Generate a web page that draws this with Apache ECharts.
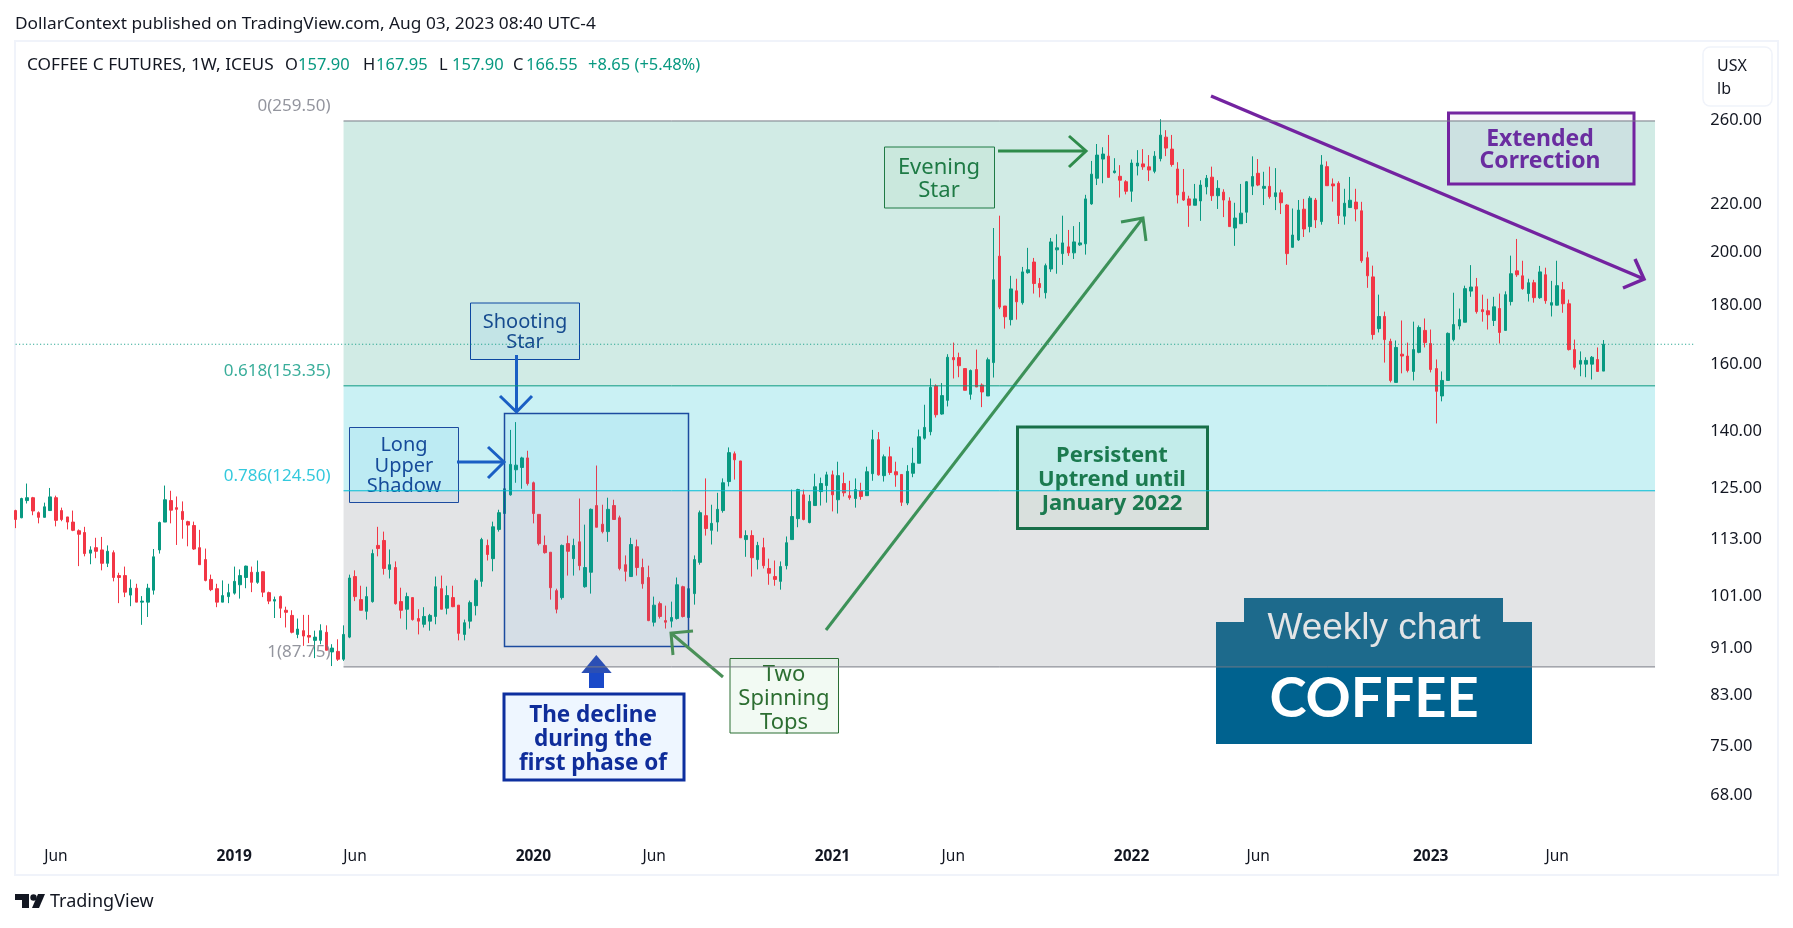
<!DOCTYPE html>
<html>
<head>
<meta charset="utf-8">
<title>Coffee C Futures weekly</title>
<script src="https://cdn.jsdelivr.net/npm/echarts@6/dist/echarts.min.js"></script>
<style>
  html, body { margin: 0; padding: 0; background: #fff; }
  #chart { width: 1793px; height: 928px; }
</style>
</head>
<body>
<div id="chart"></div>
<script>
// weekly candles: [open, close, low, high]
const ohlc2018 = [
[119.7,117.6,115.6,119.9],[118.0,122.6,117.9,122.8],[122.1,122.8,121.4,126.3],[122.8,119.6,118.6,123.0],[119.2,118.1,116.7,119.5],
[118.1,120.6,118.1,121.6],[119.7,123.0,119.6,125.2],[122.8,117.4,116.0,123.3],[119.7,117.6,117.2,120.4],[118.2,117.0,115.3,118.2],
[117.0,115.1,114.9,119.7],[115.0,114.2,107.2,115.3],[114.6,109.9,109.3,115.9],[110.0,110.7,107.6,111.5],[111.2,110.4,108.9,113.4],
[110.7,107.8,106.3,113.6],[107.8,110.4,107.0,111.7],[110.1,104.8,104.0,110.6],[105.2,104.8,99.6,105.8],[105.2,101.8,100.8,107.1],
[101.2,102.6,99.0,104.4],[102.6,99.8,99.8,103.5],[99.8,100.0,95.4,101.0],[99.8,102.6,96.9,103.5],[102.2,109.2,101.3,110.9],
[110.7,116.9,109.9,117.1],[117.0,122.3,117.0,125.8],[122.1,119.8,116.7,124.5],[120.4,120.0,111.8,123.1],[119.5,117.6,113.2,121.9],
[117.1,116.3,111.5,117.3],[116.2,110.9,110.7,117.1],[111.2,107.5,107.5,115.2],[108.6,104.2,104.0,111.0],[104.4,102.3,102.0,105.4],
[102.5,99.8,98.8,103.5],[99.8,101.1,99.8,104.2],[100.9,101.7,99.6,103.5]
];
const ohlc2019 = [
[101.6,104.0,101.3,107.1],[103.3,105.2,100.5,106.5],[104.8,107.2,102.6,107.3],[105.9,103.8,101.8,107.1],[103.8,105.9,103.5,108.4],
[106.0,101.8,100.8,106.1],[101.7,100.0,99.4,101.9],[100.0,100.3,96.7,100.9],[100.9,98.6,96.7,101.1],[98.2,97.8,94.9,98.9],
[97.2,94.0,93.8,98.2],[93.6,94.6,92.9,96.6],[94.3,93.3,91.5,97.3],[93.4,93.1,92.0,97.3],[92.5,93.1,89.3,94.3],
[92.5,94.3,91.8,95.5],[94.0,90.7,90.7,95.3],[90.4,91.1,87.9,91.8],[90.5,89.1,88.8,92.7],[89.1,93.6,88.8,95.3],
[93.1,104.7,92.9,105.4],[105.0,100.9,100.0,106.3],[100.3,98.2,98.2,103.1],[98.0,100.9,96.4,102.9],[99.9,109.9,99.7,110.8],
[111.7,111.0,109.3,115.9],[112.8,106.7,105.4,114.8],[106.5,107.5,104.6,110.8],[106.9,99.5,99.3,108.2],[99.9,98.2,96.6,102.7],
[98.4,100.9,94.5,101.7],[100.7,96.4,96.2,100.7],[96.6,96.1,93.6,98.4],[95.5,97.0,94.9,98.8],[96.1,97.2,94.3,97.5],
[97.0,102.9,95.5,105.0],[102.5,98.4,98.4,105.2],[98.6,101.1,97.4,103.1],[100.7,98.9,98.8,103.1],[99.2,93.8,92.5,99.2],
[93.6,95.8,92.5,96.4],[96.1,99.7,94.7,100.1],[99.1,104.2,97.2,104.6],[104.0,113.0,102.9,113.4],[111.7,109.7,108.4,113.0],
[108.8,115.9,106.1,117.1],[115.3,119.2,114.8,119.9],[119.0,125.0,119.0,127.6],[123.5,131.2,123.3,140.5],[129.8,131.0,126.5,142.7],
[130.4,132.9,125.0,133.2],[132.9,126.3,125.8,134.8]
];
const ohlc2020 = [
[126.5,119.0,116.7,126.8],[118.8,112.1,111.7,118.8],[111.7,110.1,109.9,113.9],[110.2,102.7,100.3,110.2],[102.1,98.4,97.6,102.5],
[100.7,111.7,100.3,111.9],[112.1,110.4,105.2,113.9],[108.8,111.7,105.2,113.2],[112.5,107.3,106.3,122.6],[102.9,106.9,102.7,116.4],
[105.9,120.0,101.5,120.2],[120.9,115.8,115.8,130.9],[116.5,114.8,114.4,121.1],[114.8,120.0,112.5,122.8],[120.9,117.6,117.6,122.3],
[118.0,106.7,106.3,118.5],[107.5,106.1,104.0,109.5],[105.0,111.9,105.0,113.4],[111.4,106.9,105.2,113.0],[106.9,103.5,102.5,108.8],
[104.8,96.2,96.1,107.3],[95.9,99.2,95.1,100.9],[99.5,97.0,96.6,99.9],[96.2,95.9,94.7,99.1],[96.1,96.8,94.9,99.9],
[96.6,103.3,96.4,104.8],[102.9,97.0,96.8,103.1],[96.8,102.5,96.8,102.5],[101.5,108.6,99.3,109.5],[108.0,119.2,107.5,119.7],
[118.5,115.5,113.9,127.6],[115.1,116.7,111.9,121.1],[117.0,120.0,114.8,124.0],[119.7,126.5,119.2,127.6],[126.8,134.3,125.6,135.7],
[134.0,132.4,127.3,134.6],[132.1,113.4,113.4,132.1],[113.0,113.9,109.2,115.1],[113.9,109.0,105.0,115.1],[108.6,111.7,106.5,112.5],
[111.2,107.3,106.7,113.4],[106.7,105.7,103.3,108.8],[105.0,104.4,103.1,108.4],[104.0,107.1,102.3,108.2],[107.3,112.3,106.5,113.7],
[113.0,118.3,113.0,124.8],[117.8,124.8,115.8,125.0],[123.5,117.6,117.4,124.8],[116.9,121.9,116.7,123.5],[120.9,125.5,120.9,128.8],
[124.3,126.3,120.9,127.8],[125.8,128.5,121.6,129.3]
];
const ohlc2021 = [
[128.5,123.5,119.5,129.6],[122.3,128.3,119.0,131.9],[126.3,124.0,123.1,129.1],[123.3,122.8,122.3,127.0],[122.6,124.8,120.4,127.6],
[124.5,123.1,122.3,126.5],[123.3,129.3,123.3,130.6],[128.8,137.8,127.0,140.5],[137.8,128.5,128.3,139.9],[128.3,133.2,126.8,133.8],
[133.2,129.1,128.5,135.9],[129.3,128.5,125.5,131.9],[128.6,121.7,120.8,128.6],[121.5,129.4,121.0,131.0],[128.9,131.5,127.9,135.6],
[131.5,138.6,131.5,140.6],[138.2,141.2,137.8,147.7],[140.0,152.9,139.0,155.6],[153.3,144.8,144.0,153.8],[145.0,150.4,144.8,154.2],
[149.0,162.3,147.2,163.3],[162.2,161.5,155.6,167.1],[162.2,159.6,156.0,163.8],[158.7,152.0,152.0,158.7],[150.8,158.1,149.2,158.4],
[158.4,153.0,153.0,164.8],[153.6,151.5,147.0,154.1],[150.3,161.5,150.3,162.2],[160.6,189.3,155.9,209.8],[198.4,179.3,178.6,215.0],
[179.7,175.9,171.8,179.7],[174.9,185.9,172.9,190.8],[185.2,181.2,174.9,189.7],[180.9,192.3,180.2,194.2],[192.0,193.1,191.6,201.7],
[196.1,187.9,184.2,197.7],[187.9,186.4,182.8,190.0],[184.5,194.7,182.4,195.5],[193.4,204.1,192.3,205.7],[200.9,201.7,191.6,207.2],
[199.4,203.7,195.0,215.0],[202.1,199.7,198.5,209.0],[199.7,204.1,197.3,210.6],[202.9,203.7,202.5,212.3],[203.3,222.3,199.0,224.1],
[220.1,233.5,219.7,239.7],[231.6,242.5,228.5,247.9],[240.6,243.0,229.3,246.3],[242.0,232.0,232.0,252.4],[234.2,235.0,233.8,241.0],
[232.5,230.7,222.9,237.7],[230.0,225.7,224.3,230.7]
];
const ohlc2022 = [
[225.7,238.7,221.0,240.4],[237.3,238.7,232.9,244.9],[238.3,236.9,235.5,245.4],[236.9,235.4,230.3,242.5],[234.8,242.0,233.9,244.4],
[240.8,252.3,239.5,260.4],[251.3,245.9,242.0,254.8],[245.4,238.0,237.0,252.4],[235.9,224.0,220.3,239.1],[225.3,221.8,221.4,235.9],
[222.3,219.5,210.3,223.7],[219.5,222.3,219.5,229.0],[221.4,228.5,212.8,230.7],[227.7,231.6,224.3,233.1],[232.1,223.7,221.4,237.0],
[223.7,227.0,217.9,230.7],[225.3,221.8,214.4,226.6],[221.4,210.4,210.4,223.0],[209.8,214.0,202.5,220.6],[211.6,216.1,211.6,229.0],
[216.5,230.0,211.9,230.3],[228.0,232.4,224.0,241.9],[233.9,228.5,228.0,240.6],[227.0,227.9,219.6,234.6],[227.9,223.3,222.4,237.0],
[223.3,225.0,217.4,236.3],[225.0,220.6,215.7,226.4],[219.6,199.4,195.0,220.0],[201.9,206.9,201.9,218.1],[204.9,217.4,204.5,221.8],
[217.8,209.4,206.1,222.3],[210.4,222.6,208.0,223.5],[221.8,213.2,209.8,222.7],[212.5,237.8,211.2,242.5],[237.0,228.2,228.2,239.5],
[229.0,228.1,221.1,231.5],[229.3,215.1,211.5,230.2],[214.8,220.4,211.2,226.8],[218.5,221.7,218.5,232.2],[220.9,217.9,212.6,226.8],
[217.1,196.6,195.8,221.0],[197.8,190.8,186.3,200.2],[190.4,169.8,168.1,194.7],[171.8,176.0,170.5,183.8],[176.0,168.1,160.6,177.7],
[167.5,155.0,154.4,168.4],[154.4,165.5,154.4,167.8],[163.3,162.7,157.2,174.6],[162.7,158.1,157.5,167.1],[157.8,164.8,155.0,174.2],
[163.9,172.2,163.6,172.9],[171.2,167.1,165.5,175.3]
];
const ohlc2023 = [
[166.8,158.4,157.5,171.5],[158.7,151.7,142.3,161.6],[150.3,155.0,148.7,157.8],[155.0,170.2,155.0,170.5],[168.1,173.2,167.5,184.5],
[172.7,174.9,171.5,178.8],[174.0,186.0,174.0,187.1],[185.1,186.6,183.0,194.9],[186.7,177.7,177.0,190.0],[178.4,177.7,174.2,183.8],
[178.0,176.6,171.5,182.3],[174.6,179.4,172.7,183.0],[178.8,170.5,166.8,184.2],[171.2,183.8,171.2,185.0],[181.3,191.6,179.9,198.6],
[192.7,191.2,190.4,205.3],[190.8,186.0,185.6,196.6],[184.2,188.2,181.3,189.7],[188.2,182.7,180.9,189.3],[182.7,192.3,182.3,194.6],
[191.2,181.6,180.5,193.9],[180.0,180.9,176.0,188.9],[180.0,187.1,179.9,196.6],[185.6,180.5,177.3,188.5],[180.5,164.8,164.5,182.0],
[164.8,159.1,158.4,168.1],[160.1,161.3,156.3,164.2],[160.1,161.3,156.0,162.3],[160.1,162.3,155.3,162.7],[161.6,157.8,157.8,165.5],
[157.90,166.55,157.90,167.95]
];

const priceTicks = [260, 220, 200, 180, 160, 140, 125, 113, 101, 91, 83, 75, 68];
const dateTicks = ['2018-06-04','2019-01-07','2019-06-03','2020-01-06','2020-06-01','2021-01-04','2021-05-31','2022-01-03','2022-06-06','2023-01-02','2023-06-05'];
const dateTickLabels = ['Jun','2019','Jun','2020','Jun','2021','Jun','2022','Jun','2023','Jun'];

const fibPrices = [259.5, 153.35, 124.5, 87.75];
const fibTexts = ['0(259.50)', '0.618(153.35)', '0.786(124.50)', '1(87.75)'];
const fibLineColors = ['#787b86', '#089981', '#00bcd4', '#787b86'];
const fibFills = ['#d1ebe5', '#caf1f4', '#e3e4e6'];
const lastClose = 166.55;

const FONT = '"Noto Sans", Lato, sans-serif';
const UP = '#089981', DOWN = '#f23645';

const candles = [].concat(ohlc2018, ohlc2019, ohlc2020, ohlc2021, ohlc2022, ohlc2023);

// one category per week, the axis runs on past the last bar
const weeks = [];
for (let i = 0; i < 293; i++) {
  weeks.push(new Date(Date.UTC(2018, 3, 16 + i * 7)).toISOString().slice(0, 10));
}
const FIB_START = weeks[57], FIB_END = weeks[285];

// annotation helpers, all in page pixels
const g = [];
function box(x1, y1, x2, y2, stroke, lw, fill) {
  g.push({ type: 'rect', z: 3, silent: true, shape: { x: x1, y: y1, width: x2 - x1, height: y2 - y1 },
    style: { fill: fill, stroke: stroke, lineWidth: lw } });
}
function txt(x, y, text, color, font, align, sx) {
  g.push({ type: 'text', z: 4, silent: true, x: x, y: y, scaleX: sx || 1,
    style: { text: text, fill: color, font: font, textAlign: align || 'center', textVerticalAlign: 'middle' } });
}
function arrow(x1, y1, x2, y2, hx1, hy1, hx2, hy2, color, lw) {
  g.push({ type: 'polyline', z: 4, silent: true, shape: { points: [[x1, y1], [x2, y2]] },
    style: { stroke: color, lineWidth: lw, fill: null } });
  g.push({ type: 'polyline', z: 4, silent: true, shape: { points: [[hx1, hy1], [x2, y2], [hx2, hy2]] },
    style: { stroke: color, lineWidth: lw, fill: null } });
}

// panel frame and currency button
g.push({ type: 'rect', z: 0, silent: true, shape: { x: 15, y: 41, width: 1763, height: 834 },
  style: { fill: null, stroke: '#f0f3fa', lineWidth: 2 } });
g.push({ type: 'rect', z: 1, silent: true, shape: { x: 1703, y: 47, width: 69, height: 59, r: 7 },
  style: { fill: '#fff', stroke: '#f0f3fa', lineWidth: 1.5 } });
txt(1717, 66, 'USX', '#131722', '16px ' + FONT, 'left');
txt(1717, 89, 'lb', '#131722', '16px ' + FONT, 'left');

// headers
txt(15, 24, 'DollarContext published on TradingView.com, Aug 03, 2023 08:40 UTC-4', '#131722', '16px ' + FONT, 'left', 1.08);
txt(27, 65, 'COFFEE C FUTURES, 1W, ICEUS', '#131722', '16px ' + FONT, 'left', 1.08);
[[285, 'O', '157.90'], [363, 'H', '167.95'], [439, 'L', '157.90'], [513, 'C', '166.55']].forEach(function (p) {
  txt(p[0], 65, p[1], '#131722', '16.5px ' + FONT, 'left');
  txt(p[0] + 13, 65, p[2], UP, '16.5px ' + FONT, 'left');
});
txt(588, 65, '+8.65 (+5.48%)', UP, '16.5px ' + FONT, 'left');

// footer logo
g.push({ type: 'polygon', z: 1, silent: true, shape: { points: [[15, 894], [29, 894], [29, 908], [22, 908], [22, 900], [15, 900]] }, style: { fill: '#131722' } });
g.push({ type: 'circle', z: 1, silent: true, shape: { cx: 33.5, cy: 897.5, r: 3.2 }, style: { fill: '#131722' } });
g.push({ type: 'polygon', z: 1, silent: true, shape: { points: [[38, 894], [45, 894], [39, 908], [32, 908]] }, style: { fill: '#131722' } });
txt(50, 902, 'TradingView', '#131722', '18px ' + FONT, 'left');

// shaded rectangle over the first phase
box(504.5, 413.5, 688.5, 646.5, '#1c4b9f', 1.5, 'rgba(33,150,243,0.07)');

// long upper shadow
box(349.5, 427.5, 458.5, 502.5, '#1c4b9f', 1, 'rgba(33,150,243,0.07)');
['Long', 'Upper', 'Shadow'].forEach(function (t, i) { txt(404, 445.5 + i * 20.5, t, '#164b9a', '20px ' + FONT); });
arrow(457, 462, 504, 462, 488, 447, 488, 478, '#1a5fc4', 3);

// shooting star
box(470.5, 303, 579.5, 359.5, '#0d47a1', 1, 'rgba(33,150,243,0.08)');
txt(525, 322, 'Shooting', '#164b8f', '20px ' + FONT);
txt(525, 342.5, 'Star', '#164b8f', '20px ' + FONT);
arrow(516.5, 355, 516.5, 412, 500, 396, 532, 396, '#1a5fc4', 3);

// decline box with the block arrow
g.push({ type: 'polygon', z: 4, silent: true, shape: { points: [[596.3, 655], [611.7, 673], [581.3, 673]] }, style: { fill: '#2b4fb5' } });
g.push({ type: 'rect', z: 4, silent: true, shape: { x: 589, y: 673, width: 15, height: 15 }, style: { fill: '#1a49c8' } });
box(504, 694, 684, 780, '#0d2f9f', 3, '#eef6ff');
['The decline', 'during the', 'first phase of'].forEach(function (t, i) { txt(593, 716 + i * 24, t, '#0f2d9a', 'bold 22.5px ' + FONT); });

// spinning tops
box(730, 658.5, 838.5, 733, '#2a6e33', 1, 'rgba(232,245,233,0.55)');
['Two', 'Spinning', 'Tops'].forEach(function (t, i) { txt(784, 674.5 + i * 24, t, '#2c6e31', '22px ' + FONT); });
arrow(723, 677, 671, 633, 693, 631, 673, 655, '#4a9058', 3);

// uptrend
arrow(826, 630, 1143, 218, 1121, 222, 1146, 241, '#3c9158', 3);
box(1017.5, 427, 1207.5, 528.5, '#176f48', 3, 'rgba(76,175,80,0.06)');
['Persistent', 'Uptrend until', 'January 2022'].forEach(function (t, i) { txt(1112, 455.5 + i * 24, t, '#1b7a4f', 'bold 22px ' + FONT); });

// evening star
box(884.5, 147, 994.5, 208, '#1f7a45', 1, 'rgba(76,175,80,0.05)');
txt(939, 167.5, 'Evening', '#1e7a45', '22px ' + FONT);
txt(939, 190.5, 'Star', '#1e7a45', '22px ' + FONT);
arrow(998, 151, 1086, 151, 1069, 136, 1069, 167, '#2e8b4a', 3);

// extended correction
box(1448.5, 113, 1634, 184, '#7323a0', 3, 'rgba(123,31,162,0.05)');
txt(1540, 139.5, 'Extended', '#6a2da0', 'bold 23px ' + FONT);
txt(1540, 161.5, 'Correction', '#6a2da0', 'bold 23px ' + FONT);
arrow(1211, 96, 1644, 279, 1635, 259, 1623, 288, '#7323a0', 3.5);

// coffee badge
g.push({ type: 'polygon', z: 4, silent: true, shape: { points: [[1244, 598], [1503, 598], [1503, 622], [1532, 622], [1532, 666], [1216, 666], [1216, 622], [1244, 622]] },
  style: { fill: '#1d6a8c' } });
g.push({ type: 'rect', z: 4, silent: true, shape: { x: 1216, y: 666, width: 316, height: 78 }, style: { fill: '#00628f' } });
txt(1374, 629, 'Weekly chart', '#e3e4e6', '37px "Liberation Sans", Arial, sans-serif');
txt(1374, 699, 'COFFEE', '#ffffff', 'bold 56px Lato, sans-serif');

const bandAreas = fibFills.map(function (c, i) {
  return [{ xAxis: FIB_START, yAxis: fibPrices[i], itemStyle: { color: c, borderWidth: 0 } }, { xAxis: FIB_END, yAxis: fibPrices[i + 1] }];
});
// fib levels and the last close as plain two point line series
function levelLine(name, from, to, price, color, type) {
  return {
    name: name, type: 'line', z: 5, silent: true, symbol: 'none', showSymbol: false,
    data: [[from, price], [to, price]],
    lineStyle: { color: color, width: 1, type: type, opacity: 1 },
    itemStyle: { color: color }
  };
}
const levelSeries = fibPrices.map(function (p, i) {
  return levelLine(fibTexts[i], FIB_START, FIB_END, p, fibLineColors[i], 'solid');
});
levelSeries.push(levelLine('close', weeks[0], weeks[292], lastClose, UP, [1, 2.5]));

const chart = echarts.init(document.getElementById('chart'));
chart.setOption({
  animation: false,
  backgroundColor: '#ffffff',
  textStyle: { fontFamily: FONT },
  grid: { left: 15.67, right: 97.7, top: 42, bottom: 92 },
  xAxis: {
    type: 'category',
    data: weeks,
    boundaryGap: false,
    axisLine: { show: false },
    axisTick: { show: false },
    splitLine: { show: false },
    axisLabel: {
      margin: 13,
      fontSize: 15.5,
      color: '#131722',
      hideOverlap: false,
      interval: function (i, v) { return dateTicks.indexOf(v) >= 0; },
      formatter: function (v) {
        const t = dateTickLabels[dateTicks.indexOf(v)];
        return t === 'Jun' ? t : '{y|' + t + '}';
      },
      rich: { y: { fontWeight: 'bold', fontSize: 15.5, color: '#131722' } }
    }
  },
  yAxis: {
    type: 'log',
    logBase: 10,
    position: 'right',
    min: 62.72,
    max: 303.57,
    axisLine: { show: false },
    axisTick: { show: false },
    splitLine: { show: false },
    minorTick: { show: false },
    axisLabel: {
      margin: 15,
      fontSize: 16.5,
      color: '#131722',
      padding: [2, 0, 0, 0],
      customValues: priceTicks,
      formatter: function (v) { return Number(v).toFixed(2); }
    }
  },
  series: [
    {
      type: 'candlestick',
      data: candles,
      barWidth: 3,
      silent: true,
      itemStyle: { color: UP, color0: DOWN, borderColor: UP, borderColor0: DOWN, borderColorDoji: UP, borderWidth: 1 },
      markArea: { silent: true, data: bandAreas }
    },
    {
      type: 'scatter',
      z: 6,
      silent: true,
      symbolSize: 0,
      data: fibPrices.map(function (p, i) {
        return {
          value: [FIB_START, p],
          label: { show: true, position: 'left', distance: 13, offset: [0, -15], formatter: fibTexts[i], fontSize: 17, color: i === 3 ? '#787b86' : fibLineColors[i] }
        };
      })
    }
  ].concat(levelSeries),
  graphic: g
});
</script>
</body>
</html>
